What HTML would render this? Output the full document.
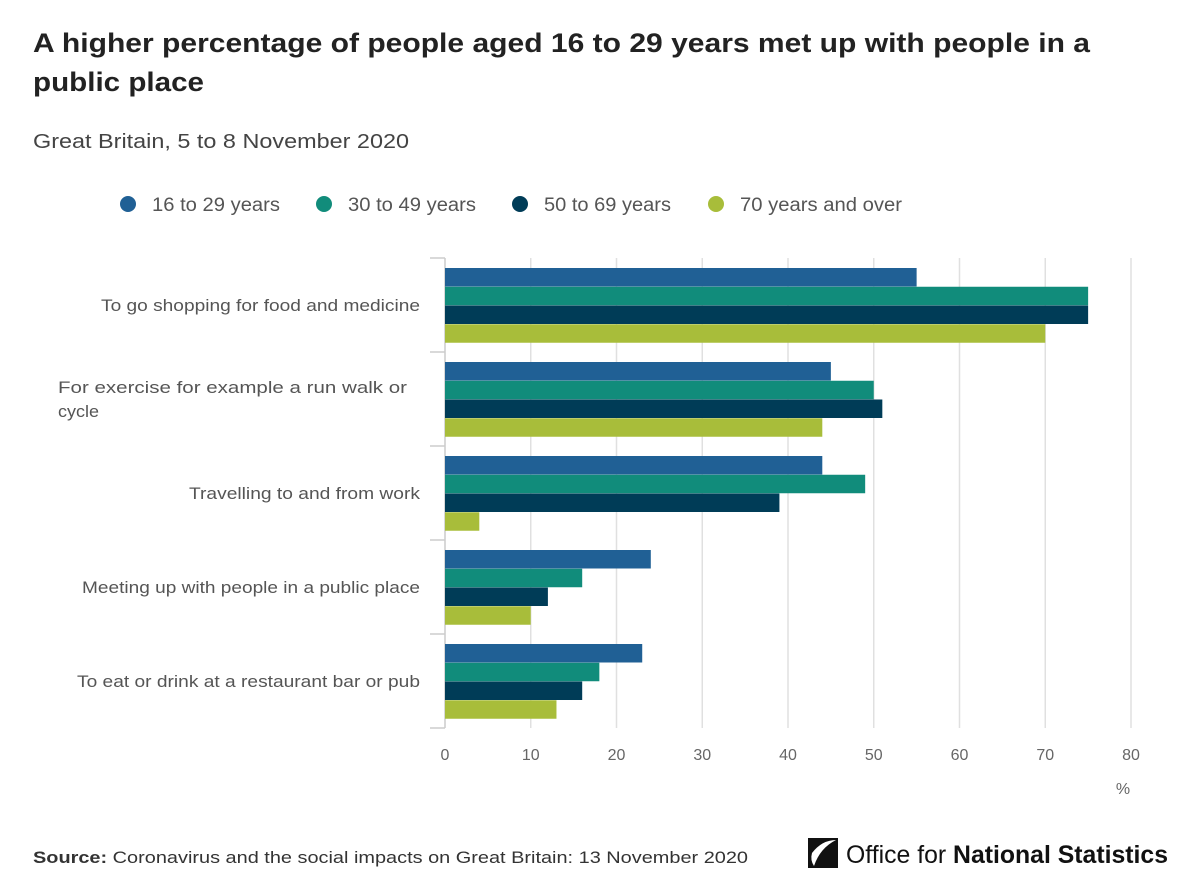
<!DOCTYPE html>
<html><head><meta charset="utf-8"><style>
body{margin:0;background:#fff;}
svg{display:block;font-family:"Liberation Sans",sans-serif;}
</style></head><body>
<svg id="chart" width="1200" height="895">
<text x="33" y="52" font-size="27" font-weight="bold" fill="#222" textLength="1057" lengthAdjust="spacingAndGlyphs">A higher percentage of people aged 16 to 29 years met up with people in a</text>
<text x="33" y="91" font-size="27" font-weight="bold" fill="#222" textLength="171" lengthAdjust="spacingAndGlyphs">public place</text>
<text x="33" y="148" font-size="20" fill="#444" textLength="376" lengthAdjust="spacingAndGlyphs">Great Britain, 5 to 8 November 2020</text>
<g id="legend"></g>
<g id="grid"></g>
<g id="bars"></g>
<g id="cats"></g>
<g id="ticks"></g>
<text x="1123" y="794" font-size="16" fill="#666" text-anchor="middle">%</text>
<text x="33" y="863" font-size="17" fill="#333" textLength="715" lengthAdjust="spacingAndGlyphs"><tspan font-weight="bold">Source:</tspan> Coronavirus and the social impacts on Great Britain: 13 November 2020</text>
<g>
<path d="M808 838 L838 838 L838 868 L808 868 Z" fill="#111"/>
<path d="M812 853 Q822 840 836 840 Q820 848 814 866 Q810 860 812 853 Z" fill="#fff"/>
<text x="846" y="863" font-size="25" fill="#111" textLength="322" lengthAdjust="spacingAndGlyphs">Office for <tspan font-weight="bold">National Statistics</tspan></text>
</g>
</svg>
<script>
const categories=[["To go shopping for food and medicine"],["For exercise for example a run walk or","cycle"],["Travelling to and from work"],["Meeting up with people in a public place"],["To eat or drink at a restaurant bar or pub"]];
const catWidths=[[319],[349,41],[231],[338],[343]];
const seriesNames=["16 to 29 years","30 to 49 years","50 to 69 years","70 years and over"];
const s1629=[55,45,44,24,23];
const s3049=[75,50,49,16,18];
const s5069=[75,51,39,12,16];
const s70=[70,44,4,10,13];
const tickValues=[0,10,20,30,40,50,60,70,80];
const colors=["#206095","#118c7b","#003c57","#a8bd3a"];
const series=[s1629,s3049,s5069,s70];
const NS="http://www.w3.org/2000/svg";
const x0=445,pxPer=8.575,top0=258,band=94;
const xs=v=>x0+v*pxPer;
function mk(tag,attrs,parent){const e=document.createElementNS(NS,tag);for(const k in attrs)e.setAttribute(k,attrs[k]);document.getElementById(parent).appendChild(e);return e;}
const lx=[128,324,520,716];
const lw=[128,128,127,162];
seriesNames.forEach((n,i)=>{
 const c=mk("circle",{cx:lx[i],cy:204,r:8,fill:colors[i]},"legend");
 
 
 const t=mk("text",{x:lx[i]+24,y:211,"font-size":19,fill:"#555",textLength:lw[i],lengthAdjust:"spacingAndGlyphs"},"legend");
 t.textContent=n;
 
 
});
tickValues.forEach(v=>{
 if(v>0){const g=mk("line",{x1:xs(v),x2:xs(v),y1:top0,y2:top0+band*categories.length,stroke:"#e0e0e0","stroke-width":1.5},"grid");
 
 }
 const t=mk("text",{x:xs(v),y:760,"font-size":16,fill:"#666","text-anchor":"middle"},"ticks");
 t.textContent=v;
 
 
});
const ax=mk("line",{x1:x0,x2:x0,y1:top0,y2:top0+band*categories.length,stroke:"#ccc","stroke-width":1.5},"grid");


for(let i=0;i<=categories.length;i++){
 const tk=mk("line",{x1:430,x2:x0,y1:top0+band*i,y2:top0+band*i,stroke:"#ccc","stroke-width":1.5},"grid");
 
 
}
categories.forEach((cat,i)=>{
 const bt=top0+band*i;
 series.forEach((s,j)=>{
  const r=mk("rect",{x:x0,y:bt+10+j*18.75,width:xs(s[i])-x0,height:18.5,fill:colors[j]},"bars");
  
  
 });
 const cy=bt+band/2+6-(cat.length-1)*12;
 cat.forEach((line,k)=>{
  const w=catWidths[i][k];
  const t=mk("text",{x:cat.length>1?58:420-w,y:cy+k*24,"font-size":17,fill:"#555",textLength:w,lengthAdjust:"spacingAndGlyphs"},"cats");
  t.textContent=line;
  
  
 });
});
</script>
</body></html>
